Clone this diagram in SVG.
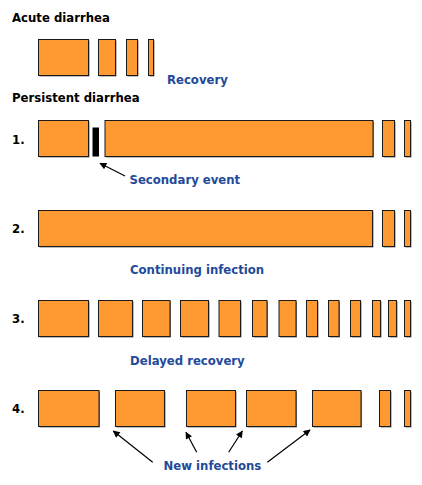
<svg xmlns="http://www.w3.org/2000/svg" width="422" height="485" viewBox="0 0 422 485">
<defs>
<style>
.t{font-family:"DejaVu Sans","Verdana",sans-serif;font-weight:bold;font-size:11.7px;fill:#000}
.b{fill:#1f4a9a}
.box{fill:#ff9a33;stroke:#1a1a1a;stroke-width:1}
.sh{fill:#7a7a7a}
.ar{stroke:#000;stroke-width:1.2;fill:none;marker-end:url(#ah)}
</style>
<marker id="ah" viewBox="0 0 10 10" refX="9" refY="5" markerWidth="9" markerHeight="7" markerUnits="userSpaceOnUse" orient="auto">
<path d="M0,0 L10,5 L0,10 z" fill="#000"/>
</marker>
</defs>
<rect width="422" height="485" fill="#fff"/>

<text class="t" x="12" y="22">Acute diarrhea</text>
<text class="t" x="12" y="102">Persistent diarrhea</text>
<text class="t" x="12" y="143.5">1.</text>
<text class="t" x="12" y="233">2.</text>
<text class="t" x="12" y="323">3.</text>
<text class="t" x="12" y="413">4.</text>

<g id="acute">
<rect class="sh" x="39.5" y="40.5" width="50" height="36"/><rect class="box" x="38.5" y="39.5" width="50" height="36"/>
<rect class="sh" x="99.5" y="40.5" width="17" height="36"/><rect class="box" x="98.5" y="39.5" width="17" height="36"/>
<rect class="sh" x="127.5" y="40.5" width="11" height="36"/><rect class="box" x="126.5" y="39.5" width="11" height="36"/>
<rect class="sh" x="149.5" y="40.5" width="5" height="36"/><rect class="box" x="148.5" y="39.5" width="5" height="36"/>
<text class="t b" x="167" y="84">Recovery</text>
</g>

<g id="row1">
<rect class="sh" x="39.5" y="121.5" width="50" height="36"/><rect class="box" x="38.5" y="120.5" width="50" height="36"/>
<rect x="92.5" y="127.5" width="6.5" height="29" fill="#000"/>
<rect class="sh" x="106" y="121.5" width="268" height="36"/><rect class="box" x="105" y="120.5" width="268" height="36"/>
<rect class="sh" x="383.5" y="121.5" width="12" height="36"/><rect class="box" x="382.5" y="120.5" width="12" height="36"/>
<rect class="sh" x="405.5" y="121.5" width="6" height="36"/><rect class="box" x="404.5" y="120.5" width="6" height="36"/>
<text class="t b" x="129.5" y="183.5">Secondary event</text>
</g>

<g id="row2">
<rect class="sh" x="39.5" y="211.5" width="334" height="36"/><rect class="box" x="38.5" y="210.5" width="334" height="36"/>
<rect class="sh" x="383.5" y="211.5" width="12" height="36"/><rect class="box" x="382.5" y="210.5" width="12" height="36"/>
<rect class="sh" x="405.5" y="211.5" width="6" height="36"/><rect class="box" x="404.5" y="210.5" width="6" height="36"/>
<text class="t b" x="130" y="274">Continuing infection</text>
</g>

<g id="row3">
<rect class="sh" x="39.5" y="301.5" width="50" height="36"/><rect class="box" x="38.5" y="300.5" width="50" height="36"/>
<rect class="sh" x="99.5" y="301.5" width="34" height="36"/><rect class="box" x="98.5" y="300.5" width="34" height="36"/>
<rect class="sh" x="143.5" y="301.5" width="27.5" height="36"/><rect class="box" x="142.5" y="300.5" width="27.5" height="36"/>
<rect class="sh" x="181.5" y="301.5" width="28" height="36"/><rect class="box" x="180.5" y="300.5" width="28" height="36"/>
<rect class="sh" x="220" y="301.5" width="21.5" height="36"/><rect class="box" x="219" y="300.5" width="21.5" height="36"/>
<rect class="sh" x="253.5" y="301.5" width="14.5" height="36"/><rect class="box" x="252.5" y="300.5" width="14.5" height="36"/>
<rect class="sh" x="280" y="301.5" width="17" height="36"/><rect class="box" x="279" y="300.5" width="17" height="36"/>
<rect class="sh" x="307.5" y="301.5" width="11" height="36"/><rect class="box" x="306.5" y="300.5" width="11" height="36"/>
<rect class="sh" x="329.5" y="301.5" width="10.5" height="36"/><rect class="box" x="328.5" y="300.5" width="10.5" height="36"/>
<rect class="sh" x="351.5" y="301.5" width="10" height="36"/><rect class="box" x="350.5" y="300.5" width="10" height="36"/>
<rect class="sh" x="373.5" y="301.5" width="8" height="36"/><rect class="box" x="372.5" y="300.5" width="8" height="36"/>
<rect class="sh" x="389.5" y="301.5" width="8" height="36"/><rect class="box" x="388.5" y="300.5" width="8" height="36"/>
<rect class="sh" x="405.5" y="301.5" width="6" height="36"/><rect class="box" x="404.5" y="300.5" width="6" height="36"/>
<text class="t b" x="130" y="364.5">Delayed recovery</text>
</g>

<g id="row4">
<rect class="sh" x="39.5" y="391.5" width="60.5" height="36"/><rect class="box" x="38.5" y="390.5" width="60.5" height="36"/>
<rect class="sh" x="116.5" y="391.5" width="49" height="36"/><rect class="box" x="115.5" y="390.5" width="49" height="36"/>
<rect class="sh" x="187.5" y="391.5" width="49" height="36"/><rect class="box" x="186.5" y="390.5" width="49" height="36"/>
<rect class="sh" x="247.5" y="391.5" width="49.5" height="36"/><rect class="box" x="246.5" y="390.5" width="49.5" height="36"/>
<rect class="sh" x="313.5" y="391.5" width="48.5" height="36"/><rect class="box" x="312.5" y="390.5" width="48.5" height="36"/>
<rect class="sh" x="380.5" y="391.5" width="11" height="36"/><rect class="box" x="379.5" y="390.5" width="11" height="36"/>
<rect class="sh" x="405.5" y="391.5" width="6" height="36"/><rect class="box" x="404.5" y="390.5" width="6" height="36"/>
<text class="t b" x="163.5" y="470">New infections</text>
</g>

<g id="connectors">
<line class="ar" x1="125" y1="176" x2="100" y2="163.3"/>
<line class="ar" x1="152.7" y1="462.3" x2="113.3" y2="431"/>
<line class="ar" x1="196.7" y1="452.3" x2="186" y2="432.3"/>
<line class="ar" x1="228.7" y1="452.3" x2="242.3" y2="431"/>
<line class="ar" x1="267.3" y1="462.3" x2="310" y2="430"/>
</g>
</svg>
